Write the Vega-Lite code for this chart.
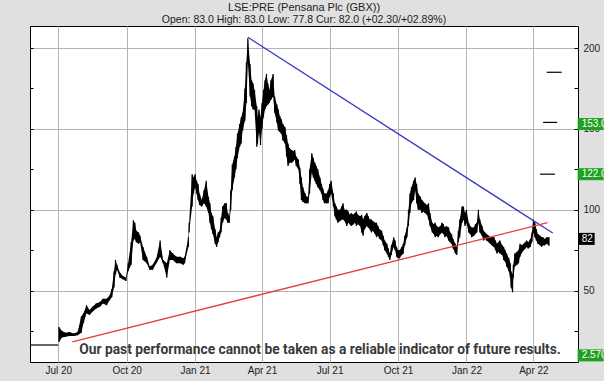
{
"$schema": "https://vega.github.io/schema/vega-lite/v6.json",
"width": 548, "height": 336,
"autosize": "none",
"padding": {"left": 30, "top": 26, "right": 26, "bottom": 19},
"background": "#e0e0e0",
"config": {"view": {"fill": "white", "stroke": "#000", "strokeWidth": 1}, "font": "Liberation Sans"},
"title": {"text": "LSE:PRE (Pensana Plc (GBX))", "subtitle": "Open: 83.0 High: 83.0 Low: 77.8 Cur: 82.0 (+02.30/+02.89%)", "anchor": "middle", "frame": "group", "fontSize": 11, "fontWeight": "normal", "color": "#222", "subtitleFontSize": 10.5, "subtitleColor": "#222", "subtitlePadding": 2, "offset": 1, "font": "Liberation Sans", "subtitleFont": "Liberation Sans"},
"datasets": {
"px": [
{"d":"2020-07-02","l":18.2,"h":27.5},{"d":"2020-07-06","l":21,"h":25},{"d":"2020-07-11","l":21.5,"h":24},{"d":"2020-07-16","l":22,"h":24.5},{"d":"2020-07-22","l":22,"h":23.5},{"d":"2020-07-27","l":22.5,"h":24.5},{"d":"2020-08-01","l":24,"h":34},{"d":"2020-08-04","l":30,"h":36},{"d":"2020-08-08","l":36,"h":41},{"d":"2020-08-12","l":35,"h":38},{"d":"2020-08-16","l":37,"h":40},{"d":"2020-08-21","l":39,"h":42},{"d":"2020-08-26","l":40,"h":43},{"d":"2020-08-30","l":42,"h":45},{"d":"2020-09-04","l":41,"h":45},{"d":"2020-09-08","l":44,"h":47},{"d":"2020-09-11","l":46,"h":51},{"d":"2020-09-14","l":52,"h":62},{"d":"2020-09-16","l":60,"h":69},{"d":"2020-09-18","l":63,"h":66},{"d":"2020-09-22","l":58,"h":61},{"d":"2020-09-26","l":57,"h":59},{"d":"2020-09-30","l":56,"h":58},{"d":"2020-10-03","l":62,"h":67},{"d":"2020-10-07","l":66,"h":80},{"d":"2020-10-10","l":81,"h":93.6},{"d":"2020-10-12","l":82,"h":92},{"d":"2020-10-14","l":80,"h":87},{"d":"2020-10-17","l":79,"h":86},{"d":"2020-10-19","l":80,"h":84},{"d":"2020-10-23","l":69,"h":77},{"d":"2020-10-28","l":67,"h":71},{"d":"2020-11-01","l":63,"h":65},{"d":"2020-11-05","l":63,"h":66},{"d":"2020-11-10","l":67,"h":70},{"d":"2020-11-15","l":71,"h":81},{"d":"2020-11-19","l":67,"h":69},{"d":"2020-11-24","l":58,"h":67},{"d":"2020-11-28","l":69,"h":75},{"d":"2020-12-02","l":69,"h":73},{"d":"2020-12-07","l":67,"h":71},{"d":"2020-12-12","l":67,"h":71},{"d":"2020-12-16","l":66,"h":70},{"d":"2020-12-18","l":67,"h":71},{"d":"2020-12-23","l":77,"h":83},{"d":"2020-12-24","l":86,"h":92},
{"d":"2020-12-28","l":102,"h":122},{"d":"2020-12-30","l":110,"h":120},{"d":"2021-01-01","l":114,"h":122},{"d":"2021-01-03","l":110,"h":118},{"d":"2021-01-05","l":106,"h":116},{"d":"2021-01-07","l":103,"h":110},{"d":"2021-01-10","l":102,"h":106},{"d":"2021-01-13","l":104,"h":112},{"d":"2021-01-16","l":102,"h":118},{"d":"2021-01-19","l":98,"h":108},{"d":"2021-01-21","l":92,"h":104},{"d":"2021-01-23","l":88,"h":98},{"d":"2021-01-25","l":85,"h":96},{"d":"2021-01-28","l":79,"h":88},{"d":"2021-01-30","l":77,"h":83},{"d":"2021-02-01","l":80,"h":86},{"d":"2021-02-03","l":83,"h":87},{"d":"2021-02-05","l":86,"h":95},{"d":"2021-02-07","l":92,"h":102},{"d":"2021-02-10","l":95,"h":104},{"d":"2021-02-12","l":94,"h":104},{"d":"2021-02-14","l":92,"h":98},{"d":"2021-02-16","l":92,"h":96},{"d":"2021-02-18","l":100,"h":112},{"d":"2021-02-20","l":112,"h":128},{"d":"2021-02-23","l":120,"h":133},{"d":"2021-02-25","l":125,"h":139},{"d":"2021-02-27","l":132,"h":147},{"d":"2021-03-02","l":139,"h":153},{"d":"2021-03-04","l":141,"h":157},{"d":"2021-03-06","l":149,"h":160},{"d":"2021-03-09","l":155,"h":175},{"d":"2021-03-11","l":166,"h":191},{"d":"2021-03-13","l":191,"h":206},{"d":"2021-03-16","l":170,"h":190},{"d":"2021-03-18","l":164,"h":180},{"d":"2021-03-20","l":162,"h":178},{"d":"2021-03-22","l":162,"h":174},{"d":"2021-03-25","l":139,"h":164},{"d":"2021-03-26","l":141,"h":157},{"d":"2021-03-28","l":148,"h":162},{"d":"2021-03-30","l":140,"h":157},{"d":"2021-04-01","l":150,"h":166},{"d":"2021-04-03","l":157,"h":174},{"d":"2021-04-05","l":162,"h":180},{"d":"2021-04-07","l":164,"h":184},{"d":"2021-04-09","l":165,"h":178},{"d":"2021-04-11","l":166,"h":174},{"d":"2021-04-13","l":168,"h":180},{"d":"2021-04-16","l":170,"h":184},{"d":"2021-04-18","l":160,"h":170},{"d":"2021-04-21","l":154,"h":165},{"d":"2021-04-23","l":149,"h":162},{"d":"2021-04-25","l":148,"h":158},{"d":"2021-04-27","l":147,"h":156},{"d":"2021-04-29","l":143,"h":153},{"d":"2021-05-02","l":141,"h":151},{"d":"2021-05-04","l":133,"h":146},{"d":"2021-05-06","l":127,"h":141},{"d":"2021-05-08","l":129,"h":138},{"d":"2021-05-11","l":129,"h":137},{"d":"2021-05-13","l":130,"h":136},{"d":"2021-05-15","l":131,"h":137},{"d":"2021-05-17","l":127,"h":133},{"d":"2021-05-20","l":125,"h":131},{"d":"2021-05-22","l":116,"h":126},{"d":"2021-05-24","l":106,"h":120},{"d":"2021-05-26","l":105,"h":114},{"d":"2021-05-29","l":104,"h":110},{"d":"2021-05-31","l":104,"h":108},{"d":"2021-06-02","l":104,"h":108},{"d":"2021-06-04","l":110,"h":125},{"d":"2021-06-07","l":123,"h":135},{"d":"2021-06-09","l":120,"h":132},{"d":"2021-06-11","l":118,"h":129},{"d":"2021-06-13","l":116,"h":127},{"d":"2021-06-15","l":114,"h":125},{"d":"2021-06-18","l":112,"h":120},{"d":"2021-06-20","l":110,"h":116},{"d":"2021-06-22","l":106,"h":113},{"d":"2021-06-24","l":104,"h":110},{"d":"2021-06-27","l":104,"h":110},{"d":"2021-06-29","l":104,"h":112},{"d":"2021-07-01","l":108,"h":116},{"d":"2021-07-03","l":110,"h":118},{"d":"2021-07-06","l":102,"h":110},{"d":"2021-07-08","l":96,"h":104},{"d":"2021-07-10","l":94,"h":102},{"d":"2021-07-12","l":92,"h":100},{"d":"2021-07-15","l":93,"h":100},{"d":"2021-07-17","l":94,"h":102},{"d":"2021-07-19","l":94,"h":104},{"d":"2021-07-21","l":93,"h":100},{"d":"2021-07-24","l":90,"h":100},{"d":"2021-07-26","l":92,"h":99},{"d":"2021-07-28","l":91,"h":97},{"d":"2021-07-30","l":90,"h":98},{"d":"2021-08-02","l":91,"h":97},{"d":"2021-08-04","l":92,"h":98},{"d":"2021-08-06","l":90,"h":99},{"d":"2021-08-08","l":91,"h":97},{"d":"2021-08-11","l":90,"h":96},{"d":"2021-08-13","l":86,"h":97},{"d":"2021-08-15","l":84,"h":94},{"d":"2021-08-17","l":88,"h":96},{"d":"2021-08-20","l":90,"h":98},{"d":"2021-08-22","l":89,"h":96},{"d":"2021-08-24","l":88,"h":94},{"d":"2021-08-26","l":86,"h":94},{"d":"2021-08-28","l":87,"h":93},{"d":"2021-08-31","l":85,"h":92},{"d":"2021-09-02","l":83,"h":92},{"d":"2021-09-04","l":84,"h":90},{"d":"2021-09-06","l":82,"h":88},{"d":"2021-09-09","l":81,"h":87},{"d":"2021-09-11","l":78,"h":84},{"d":"2021-09-13","l":75,"h":81},{"d":"2021-09-16","l":73,"h":79},{"d":"2021-09-18","l":71,"h":76},{"d":"2021-09-20","l":69,"h":73},{"d":"2021-09-22","l":72,"h":78},{"d":"2021-09-25","l":77,"h":83},{"d":"2021-09-27","l":75,"h":81},{"d":"2021-09-29","l":71,"h":77},{"d":"2021-10-01","l":70,"h":75},{"d":"2021-10-03","l":70,"h":75},{"d":"2021-10-06","l":72,"h":77},{"d":"2021-10-08","l":73,"h":79},{"d":"2021-10-10","l":78,"h":84},{"d":"2021-10-13","l":83,"h":89},{"d":"2021-10-15","l":90,"h":100},{"d":"2021-10-17","l":98,"h":110},{"d":"2021-10-19","l":104,"h":114},{"d":"2021-10-22","l":106,"h":118},{"d":"2021-10-24","l":112,"h":120},{"d":"2021-10-26","l":104,"h":116},{"d":"2021-10-28","l":100,"h":110},{"d":"2021-10-31","l":100,"h":108},{"d":"2021-11-02","l":98,"h":106},{"d":"2021-11-04","l":99,"h":105},{"d":"2021-11-06","l":98,"h":104},{"d":"2021-11-09","l":97,"h":103},{"d":"2021-11-11","l":94,"h":104},{"d":"2021-11-13","l":90,"h":98},{"d":"2021-11-16","l":86,"h":92},{"d":"2021-11-18","l":85,"h":91},{"d":"2021-11-20","l":83,"h":92},{"d":"2021-11-22","l":84,"h":90},{"d":"2021-11-24","l":83,"h":89},{"d":"2021-11-27","l":85,"h":90},{"d":"2021-11-29","l":86,"h":92},{"d":"2021-12-01","l":85,"h":91},{"d":"2021-12-03","l":83,"h":89},{"d":"2021-12-05","l":84,"h":90},{"d":"2021-12-08","l":81,"h":89},{"d":"2021-12-10","l":80,"h":86},{"d":"2021-12-12","l":79,"h":85},{"d":"2021-12-14","l":76,"h":82},{"d":"2021-12-17","l":73,"h":79},{"d":"2021-12-19","l":72,"h":77},{"d":"2021-12-21","l":80,"h":87},{"d":"2021-12-23","l":83,"h":94},{"d":"2021-12-26","l":92,"h":102},{"d":"2021-12-28","l":94,"h":102},{"d":"2021-12-30","l":90,"h":98},{"d":"2022-01-01","l":92,"h":100},{"d":"2022-01-04","l":86,"h":92},{"d":"2022-01-06","l":85,"h":90},{"d":"2022-01-08","l":83,"h":89},{"d":"2022-01-11","l":84,"h":89},{"d":"2022-01-13","l":85,"h":91},{"d":"2022-01-15","l":86,"h":92},{"d":"2022-01-17","l":92,"h":100},{"d":"2022-01-19","l":86,"h":94},{"d":"2022-01-22","l":84,"h":90},{"d":"2022-01-24","l":81,"h":87},{"d":"2022-01-26","l":82,"h":86},{"d":"2022-01-28","l":81,"h":85},{"d":"2022-01-31","l":80,"h":84},{"d":"2022-02-02","l":79,"h":83},{"d":"2022-02-04","l":78,"h":83},{"d":"2022-02-07","l":77,"h":83},{"d":"2022-02-09","l":75,"h":81},{"d":"2022-02-11","l":73,"h":79},{"d":"2022-02-13","l":74,"h":80},{"d":"2022-02-15","l":73,"h":81},{"d":"2022-02-18","l":72,"h":78},{"d":"2022-02-20","l":69,"h":77},{"d":"2022-02-22","l":68,"h":75},{"d":"2022-02-24","l":65,"h":73},{"d":"2022-02-27","l":62,"h":70},{"d":"2022-03-01","l":58,"h":67},{"d":"2022-03-02","l":52,"h":62},{"d":"2022-03-04","l":49,"h":60},{"d":"2022-03-05","l":58,"h":66},{"d":"2022-03-07","l":65,"h":73},{"d":"2022-03-10","l":66,"h":74},{"d":"2022-03-12","l":67,"h":75},{"d":"2022-03-14","l":71,"h":79},{"d":"2022-03-16","l":73,"h":78},{"d":"2022-03-19","l":75,"h":79},{"d":"2022-03-21","l":76,"h":80},{"d":"2022-03-23","l":77,"h":81},{"d":"2022-03-25","l":76,"h":80},{"d":"2022-03-28","l":77,"h":82},{"d":"2022-03-30","l":80,"h":86},{"d":"2022-04-01","l":86,"h":94},{"d":"2022-04-03","l":83,"h":92},{"d":"2022-04-05","l":81,"h":88},{"d":"2022-04-07","l":79,"h":85},{"d":"2022-04-10","l":78,"h":84},{"d":"2022-04-12","l":77,"h":83},{"d":"2022-04-14","l":78,"h":83},{"d":"2022-04-16","l":78,"h":82},{"d":"2022-04-19","l":79,"h":83},{"d":"2022-04-22","l":77.8,"h":83}
],
"trend": [
{"g":"down","d":"2021-03-13","v":206.6},{"g":"down","d":"2022-04-27","v":85.6},
{"g":"up","d":"2020-07-20","v":18.4},{"g":"up","d":"2022-04-20","v":92}
],
"targets": [
{"d":"2022-04-19","d2":"2022-05-09","v":185},{"d":"2022-04-14","d2":"2022-05-03","v":154},{"d":"2022-04-10","d2":"2022-04-30","v":122}
],
"labels": [
{"t":"153.0","v":153,"k":"g"},{"t":"122.0","v":122,"k":"g"},{"t":"82","v":82,"k":"k"},{"t":"2.570","v":2.57,"k":"b"}
]
},
"layer": [
{
"data": {"name": "px"},
"mark": {"type": "area", "color": "#000", "interpolate": "linear", "clip": true},
"encoding": {
"x": {"field": "d", "type": "temporal",
 "scale": {"domain": [{"year": 2020, "month": 5, "date": 24}, {"year": 2022, "month": 5, "date": 31}]},
 "axis": {"values": [{"year":2020,"month":7,"date":1},{"year":2020,"month":10,"date":1},{"year":2021,"month":1,"date":1},{"year":2021,"month":4,"date":1},{"year":2021,"month":7,"date":1},{"year":2021,"month":10,"date":1},{"year":2022,"month":1,"date":1},{"year":2022,"month":4,"date":1}],
  "format": "%b %y", "grid": true, "gridColor": "#b4b4b4", "gridOpacity": 1, "ticks": false, "domain": false, "labelPadding": 3, "labelFontSize": 10, "labelColor": "#222", "labelFont": "Liberation Sans", "labelFlush": false, "labelOverlap": false, "title": null}},
"y": {"field": "l", "type": "quantitative",
 "scale": {"domain": [5.9, 213.6], "nice": false, "zero": false},
 "axis": {"orient": "right", "values": [25,50,75,100,125,150,175,200], "labelExpr": "datum.value % 50 == 0 ? datum.label : ''", "grid": true, "gridColor": {"condition": {"test": "datum.value % 50 == 0", "value": "#b4b4b4"}, "value": "transparent"}, "gridOpacity": 1, "tickSize": -4, "tickColor": "#000", "labelPadding": 9, "domain": false, "title": null, "labelFontSize": 10, "labelColor": "#222", "labelAlign": "left", "labelFont": "Liberation Sans"}},
"y2": {"field": "h"}
}
},
{
"data": {"name": "px"},
"mark": {"type": "rule", "color": "#000", "strokeWidth": 1.2, "clip": true},
"encoding": {
"x": {"field": "d", "type": "temporal"},
"y": {"field": "l", "type": "quantitative", "axis": {"orient": "left", "values": [25,50,75,100,125,150,175,200], "labels": false, "grid": false, "tickSize": -3, "tickColor": "#000", "domain": false, "title": null}},
"y2": {"field": "h"}
}
},
{
"data": {"values": [{"d":"2020-05-24","d2":"2020-07-01","v":16.4}]},
"mark": {"type": "rule", "color": "#000", "strokeWidth": 1.2},
"encoding": {
"x": {"field": "d", "type": "temporal"}, "x2": {"field": "d2"},
"y": {"field": "v", "type": "quantitative", "axis": null}
}
},
{
"data": {"name": "trend"},
"mark": {"type": "line", "strokeWidth": 1.3},
"encoding": {
"x": {"field": "d", "type": "temporal"},
"y": {"field": "v", "type": "quantitative", "axis": null},
"color": {"field": "g", "type": "nominal", "scale": {"domain": ["down","up"], "range": ["#3a3ac8","#e83a3a"]}, "legend": null}
}
},
{
"data": {"name": "targets"},
"mark": {"type": "rule", "color": "#000", "strokeWidth": 1.2},
"encoding": {
"x": {"field": "d", "type": "temporal"}, "x2": {"field": "d2"},
"y": {"field": "v", "type": "quantitative", "axis": null}
}
},
{
"data": {"values": [{"t":"Our past performance cannot be taken as a reliable indicator of future results.","d":"2021-06-18","v":13.3}]},
"mark": {"type": "text", "fontSize": 13.8, "fontWeight": "bold", "font": "Roboto", "color": "#3a3a3a", "align": "center", "baseline": "middle"},
"encoding": {
"x": {"field": "d", "type": "temporal"},
"y": {"field": "v", "type": "quantitative", "axis": null},
"text": {"field": "t"}
}
},
{
"data": {"name": "labels"},
"transform": [{"filter": "datum.k == 'g'"}],
"mark": {"type": "tick", "orient": "horizontal", "size": 26, "thickness": 12, "color": "#20a020", "opacity": 1, "clip": false},
"encoding": {
"x": {"datum": {"year": 2022, "month": 6, "date": 17}, "type": "temporal"},
"y": {"field": "v", "type": "quantitative", "axis": null}
}
},
{
"data": {"name": "labels"},
"transform": [{"filter": "datum.k == 'k'"}],
"mark": {"type": "tick", "orient": "horizontal", "size": 16, "thickness": 12, "color": "#000", "opacity": 1, "xOffset": -4, "clip": false},
"encoding": {
"x": {"datum": {"year": 2022, "month": 6, "date": 17}, "type": "temporal"},
"y": {"field": "v", "type": "quantitative", "axis": null}
}
},
{
"data": {"name": "labels"},
"transform": [{"filter": "datum.k == 'b'"}],
"mark": {"type": "tick", "orient": "horizontal", "size": 26, "thickness": 12, "color": "#20a020", "opacity": 1, "yOffset": -12, "clip": false},
"encoding": {
"x": {"datum": {"year": 2022, "month": 6, "date": 17}, "type": "temporal"},
"y": {"field": "v", "type": "quantitative", "axis": null}
}
},
{
"data": {"name": "labels"},
"transform": [{"filter": "datum.k != 'b'"}],
"mark": {"type": "text", "color": "#fff", "align": "left", "baseline": "middle", "dx": -9, "fontSize": 10, "font": "Liberation Sans", "clip": false},
"encoding": {
"x": {"datum": {"year": 2022, "month": 6, "date": 17}, "type": "temporal"},
"y": {"field": "v", "type": "quantitative", "axis": null},
"text": {"field": "t"}
}
},
{
"data": {"name": "labels"},
"transform": [{"filter": "datum.k == 'b'"}],
"mark": {"type": "text", "color": "#fff", "align": "left", "baseline": "middle", "dx": -9, "yOffset": -12, "fontSize": 10, "font": "Liberation Sans", "clip": false},
"encoding": {
"x": {"datum": {"year": 2022, "month": 6, "date": 17}, "type": "temporal"},
"y": {"field": "v", "type": "quantitative", "axis": null},
"text": {"field": "t"}
}
}
],
"resolve": {"axis": {"y": "independent"}}
}
